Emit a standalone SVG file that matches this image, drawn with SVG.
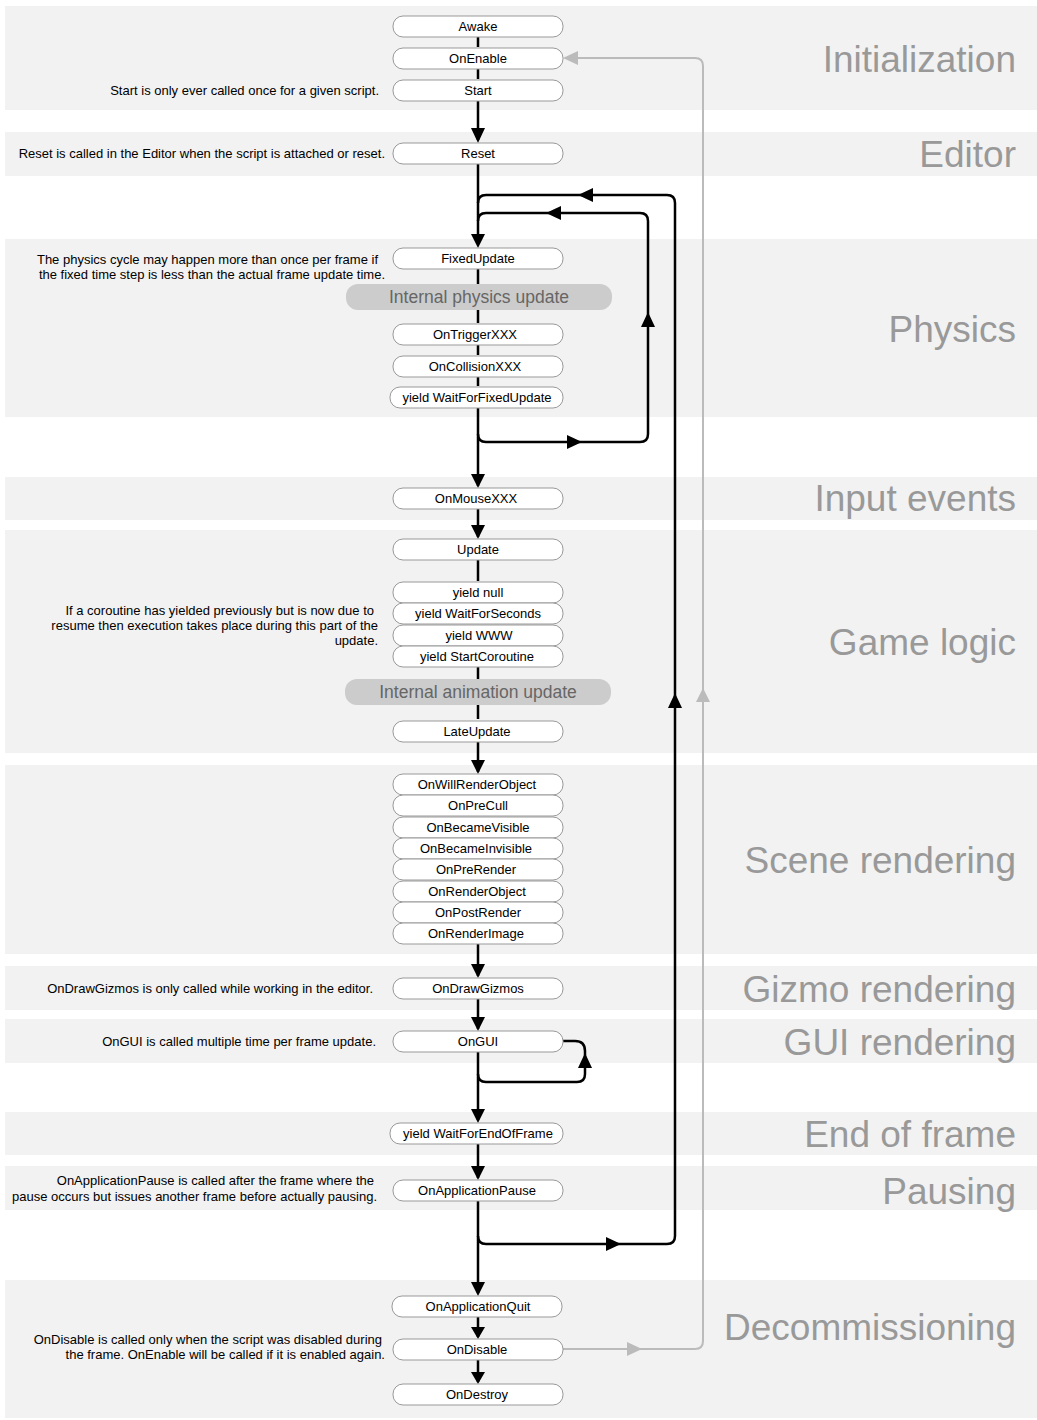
<svg xmlns="http://www.w3.org/2000/svg" width="1037" height="1420" viewBox="0 0 1037 1420">
<style>
.band{fill:#f2f2f2}
.n rect{fill:#fff;stroke:#999;stroke-width:1}
.n text{font-family:"Liberation Sans",Arial,sans-serif;font-size:13px;fill:#000;text-anchor:middle}
.pill rect{fill:#ccc;stroke:none}
.pill text{font-family:"Liberation Sans",Arial,sans-serif;font-size:17.5px;fill:#666;text-anchor:middle}
.sec{font-family:"Liberation Sans",Arial,sans-serif;font-size:37px;fill:#999;text-anchor:end}
.note{font-family:"Liberation Sans",Arial,sans-serif;font-size:13px;fill:#000;text-anchor:end}
.k{fill:none;stroke:#000;stroke-width:2.5}
.g{fill:none;stroke:#bbb;stroke-width:2}
.ah{fill:#000}
.ag{fill:#bbb}
</style>
<g id="bands">
<rect class="band" x="5" y="6" width="1032" height="104"/>
<rect class="band" x="5" y="132" width="1032" height="44"/>
<rect class="band" x="5" y="239" width="1032" height="178"/>
<rect class="band" x="5" y="477" width="1032" height="43"/>
<rect class="band" x="5" y="530" width="1032" height="223"/>
<rect class="band" x="5" y="765" width="1032" height="189"/>
<rect class="band" x="5" y="966" width="1032" height="44"/>
<rect class="band" x="5" y="1019" width="1032" height="44"/>
<rect class="band" x="5" y="1112" width="1032" height="43"/>
<rect class="band" x="5" y="1166" width="1032" height="44"/>
<rect class="band" x="5" y="1280" width="1032" height="138"/>
<text class="sec" x="1016" y="72">Initialization</text>
<text class="sec" x="1016" y="167">Editor</text>
<text class="sec" x="1016" y="342">Physics</text>
<text class="sec" x="1016" y="511">Input events</text>
<text class="sec" x="1016" y="655">Game logic</text>
<text class="sec" x="1016" y="873">Scene rendering</text>
<text class="sec" x="1016" y="1002">Gizmo rendering</text>
<text class="sec" x="1016" y="1055">GUI rendering</text>
<text class="sec" x="1016" y="1147">End of frame</text>
<text class="sec" x="1016" y="1204">Pausing</text>
<text class="sec" x="1016" y="1340">Decommissioning</text>
</g>
<g id="notes">
<text class="note" x="379" y="95">Start is only ever called once for a given script.</text>
<text class="note" x="385" y="158">Reset is called in the Editor when the script is attached or reset.</text>
<text class="note" x="378" y="264">The physics cycle may happen more than once per frame if</text>
<text class="note" x="385" y="279">the fixed time step is less than the actual frame update time.</text>
<text class="note" x="374" y="615">If a coroutine has yielded previously but is now due to</text>
<text class="note" x="378" y="630">resume then execution takes place during this part of the</text>
<text class="note" x="378" y="645">update.</text>
<text class="note" x="373" y="993">OnDrawGizmos is only called while working in the editor.</text>
<text class="note" x="376" y="1046">OnGUI is called multiple time per frame update.</text>
<text class="note" x="374" y="1185">OnApplicationPause is called after the frame where the</text>
<text class="note" x="377" y="1201">pause occurs but issues another frame before actually pausing.</text>
<text class="note" x="382" y="1344">OnDisable is called only when the script was disabled during</text>
<text class="note" x="385" y="1359">the frame. OnEnable will be called if it is enabled again.</text>
</g>
<g id="connectors">
<path class="k" d="M478 37V47M478 69V79M478 101V140M478 164V236M478 269V284M478 310V323M478 345V355M478 377V386M478 408V486M478 509V537M478 560V581M478 667V679M478 705V719M478 742V772M478 944V976M478 999V1029M478 1052V1120M478 1144V1178M478 1201V1293M478 1317V1337M478 1360V1382"/>
<path class="k" d="M478 1236Q478 1244 486 1244H667Q675 1244 675 1236V203Q675 195 667 195H486Q478 195 478 203"/>
<path class="k" d="M478 434Q478 442 486 442H640Q648 442 648 434V221Q648 213 640 213H486Q478 213 478 221"/>
<path class="k" d="M478 1074Q478 1082 486 1082H577Q585 1082 585 1074V1051Q585 1041 575 1041H563"/>
<path class="g" d="M563 1349H695Q703 1349 703 1341V66Q703 58 695 58H578"/>
<polygon class="ah" points="471,128 485,128 478,143"/>
<polygon class="ah" points="471,234 485,234 478,248"/>
<polygon class="ah" points="471,474 485,474 478,488"/>
<polygon class="ah" points="471,525 485,525 478,539"/>
<polygon class="ah" points="471,760 485,760 478,774"/>
<polygon class="ah" points="471,964 485,964 478,978"/>
<polygon class="ah" points="471,1017 485,1017 478,1031"/>
<polygon class="ah" points="471,1109 485,1109 478,1123"/>
<polygon class="ah" points="471,1166 485,1166 478,1180"/>
<polygon class="ah" points="471,1282 485,1282 478,1296"/>
<polygon class="ah" points="471,1327 485,1327 478,1339"/>
<polygon class="ah" points="471,1372 485,1372 478,1384"/>
<polygon class="ah" points="593,188 593,202 578,195"/>
<polygon class="ah" points="561,206 561,220 546,213"/>
<polygon class="ah" points="567,435 567,449 582,442"/>
<polygon class="ah" points="641,327 655,327 648,312"/>
<polygon class="ah" points="668,708 682,708 675,693"/>
<polygon class="ah" points="606,1237 606,1251 621,1244"/>
<polygon class="ah" points="578,1068 592,1068 585,1053"/>
<polygon class="ag" points="627,1342 627,1356 642,1349"/>
<polygon class="ag" points="696,702 710,702 703,688"/>
<polygon class="ag" points="578,51 578,65 563,58"/>
</g>
<g id="nodes">
<g class="n" id="awake"><rect x="393" y="16" width="170" height="21" rx="10"/><text x="478" y="31">Awake</text></g>
<g class="n" id="onenable"><rect x="393" y="48" width="170" height="21" rx="10"/><text x="478" y="63">OnEnable</text></g>
<g class="n" id="start"><rect x="393" y="80" width="170" height="21" rx="10"/><text x="478" y="95">Start</text></g>
<g class="n" id="reset"><rect x="393" y="143" width="170" height="21" rx="10"/><text x="478" y="158">Reset</text></g>
<g class="n" id="fixedupdate"><rect x="393" y="248" width="170" height="21" rx="10"/><text x="478" y="263">FixedUpdate</text></g>
<g class="pill" id="physupd"><rect x="346" y="284" width="266" height="26" rx="12"/><text x="479" y="303">Internal physics update</text></g>
<g class="n" id="ontrigger"><rect x="393" y="324" width="170" height="21" rx="10"/><text x="475" y="339">OnTriggerXXX</text></g>
<g class="n" id="oncollision"><rect x="393" y="356" width="170" height="21" rx="10"/><text x="475" y="371">OnCollisionXXX</text></g>
<g class="n" id="wffu"><rect x="390" y="387" width="173" height="21" rx="10"/><text x="477" y="402">yield WaitForFixedUpdate</text></g>
<g class="n" id="onmouse"><rect x="393" y="488" width="170" height="21" rx="10"/><text x="476" y="503">OnMouseXXX</text></g>
<g class="n" id="update"><rect x="393" y="539" width="170" height="21" rx="10"/><text x="478" y="554">Update</text></g>
<g class="n" id="ynull"><rect x="393" y="582" width="170" height="21" rx="10"/><text x="478" y="597">yield null</text></g>
<g class="n" id="ywfs"><rect x="393" y="603" width="170" height="21" rx="10"/><text x="478" y="618">yield WaitForSeconds</text></g>
<g class="n" id="ywww"><rect x="393" y="625" width="170" height="21" rx="10"/><text x="479" y="640">yield WWW</text></g>
<g class="n" id="ysc"><rect x="393" y="646" width="170" height="21" rx="10"/><text x="477" y="661">yield StartCoroutine</text></g>
<g class="pill" id="animupd"><rect x="345" y="679" width="266" height="26" rx="12"/><text x="478" y="698">Internal animation update</text></g>
<g class="n" id="lateupdate"><rect x="393" y="721" width="170" height="21" rx="10"/><text x="477" y="736">LateUpdate</text></g>
<g class="n" id="owro"><rect x="393" y="774" width="170" height="21" rx="10"/><text x="477" y="789">OnWillRenderObject</text></g>
<g class="n" id="oprecull"><rect x="393" y="795" width="170" height="21" rx="10"/><text x="478" y="810">OnPreCull</text></g>
<g class="n" id="obv"><rect x="393" y="817" width="170" height="21" rx="10"/><text x="478" y="832">OnBecameVisible</text></g>
<g class="n" id="obi"><rect x="393" y="838" width="170" height="21" rx="10"/><text x="476" y="853">OnBecameInvisible</text></g>
<g class="n" id="oprer"><rect x="393" y="859" width="170" height="21" rx="10"/><text x="476" y="874">OnPreRender</text></g>
<g class="n" id="oro"><rect x="393" y="881" width="170" height="21" rx="10"/><text x="477" y="896">OnRenderObject</text></g>
<g class="n" id="opr"><rect x="393" y="902" width="170" height="21" rx="10"/><text x="478" y="917">OnPostRender</text></g>
<g class="n" id="ori"><rect x="393" y="923" width="170" height="21" rx="10"/><text x="476" y="938">OnRenderImage</text></g>
<g class="n" id="odg"><rect x="393" y="978" width="170" height="21" rx="10"/><text x="478" y="993">OnDrawGizmos</text></g>
<g class="n" id="ongui"><rect x="393" y="1031" width="170" height="21" rx="10"/><text x="478" y="1046">OnGUI</text></g>
<g class="n" id="wfeof"><rect x="390" y="1123" width="173" height="21" rx="10"/><text x="478" y="1138">yield WaitForEndOfFrame</text></g>
<g class="n" id="oap"><rect x="393" y="1180" width="170" height="21" rx="10"/><text x="477" y="1195">OnApplicationPause</text></g>
<g class="n" id="oaq"><rect x="392" y="1296" width="170" height="21" rx="10"/><text x="478" y="1311">OnApplicationQuit</text></g>
<g class="n" id="ondisable"><rect x="393" y="1339" width="170" height="21" rx="10"/><text x="477" y="1354">OnDisable</text></g>
<g class="n" id="ondestroy"><rect x="393" y="1384" width="170" height="21" rx="10"/><text x="477" y="1399">OnDestroy</text></g>
</g>
</svg>
